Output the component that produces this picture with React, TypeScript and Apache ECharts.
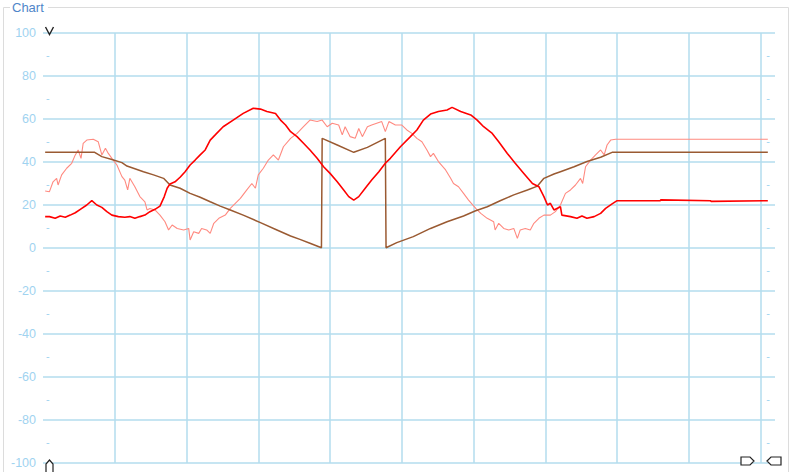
import React, { useEffect, useRef } from "react";
import * as echarts from "echarts";

// sample positions (x units: 100 per vertical grid division) and values
const redX = [3, 9, 17, 24, 31, 38, 45, 52, 61, 68, 75, 82, 89, 96, 105, 114, 121, 128, 135, 142, 149, 156, 163, 169, 173, 177, 184, 191, 198, 205, 212, 219, 226, 233, 240, 251, 265, 279, 293, 303, 312, 324, 331, 338, 345, 354, 363, 372, 382, 391, 400, 410, 419, 426, 433, 440, 449, 458, 468, 477, 484, 498, 512, 521, 530, 540, 551, 563, 570, 582, 596, 605, 614, 626, 635, 647, 658, 670, 682, 691, 698, 703, 707, 712, 721, 723, 735, 744, 751, 758, 768, 777, 784, 793, 800, 860, 861, 930, 931, 1010];
const redY = [14.6, 14.6, 13.8, 14.9, 14.3, 15.3, 16.4, 18, 20, 22, 20, 18.9, 16.9, 15.3, 14.6, 14.3, 14.6, 13.8, 14.6, 15.3, 16.9, 18, 19.5, 23.9, 27.8, 29.8, 30.8, 32.9, 35.5, 38.6, 40.9, 43.3, 45.6, 50.2, 52.6, 56.4, 59.5, 62.6, 65, 64.6, 63.5, 62.6, 59.5, 57.2, 54.1, 51.8, 48.7, 45.6, 41.7, 37.8, 34.7, 30.8, 27, 23.9, 22.3, 23.9, 27.8, 31.6, 35.5, 39.4, 41.7, 47.1, 51.8, 54.9, 59.5, 62.3, 63.5, 64.2, 65.4, 63.5, 61.9, 59.5, 56.4, 53.3, 49.4, 44, 39.4, 34.7, 30, 28.5, 23.9, 20, 20.8, 17.7, 19.2, 15.3, 14.6, 13.8, 14.9, 13.8, 14.6, 16.1, 18.4, 20.5, 22, 22, 22.4, 22, 21.7, 22];

const salmonX = [3, 9, 14, 19, 21, 26, 33, 40, 45, 49, 53, 56, 61, 70, 77, 82, 87, 91, 96, 103, 110, 114, 118, 121, 128, 135, 142, 145, 149, 156, 163, 170, 175, 180, 187, 196, 203, 205, 210, 217, 221, 228, 233, 238, 245, 254, 261, 268, 275, 284, 291, 296, 300, 307, 314, 321, 328, 335, 345, 354, 363, 372, 382, 389, 396, 403, 412, 417, 421, 428, 435, 440, 445, 452, 458, 465, 472, 477, 482, 491, 500, 507, 514, 521, 528, 535, 540, 544, 551, 561, 568, 572, 579, 586, 593, 603, 610, 619, 628, 630, 635, 642, 649, 656, 661, 665, 672, 679, 684, 691, 698, 707, 714, 721, 728, 735, 742, 749, 752, 756, 763, 770, 777, 782, 786, 791, 798, 1010];
const salmonY = [26.5, 26.2, 30.8, 32.4, 29.3, 34, 37.1, 39.4, 43.3, 45.6, 41.7, 48.7, 50.2, 50.6, 49.4, 43.3, 46.4, 44, 41.7, 38.6, 33.2, 31.6, 27, 32.4, 28.5, 23.9, 21.5, 17.7, 18.4, 17.7, 15.3, 12.2, 8.4, 10.7, 9.1, 8.4, 9.1, 3.7, 7.6, 6.8, 9.1, 8.4, 6.8, 11.5, 13.8, 15.3, 18.4, 20.8, 23.1, 27, 30, 27.8, 34, 37.1, 40.9, 43.3, 40.9, 47.1, 51, 53.3, 56.4, 59.5, 58.8, 59.5, 56.4, 58, 57.2, 52.6, 56.4, 51.8, 51, 55.6, 51.8, 56.4, 57.2, 58, 58.8, 54.1, 58.8, 57.2, 57.2, 54.9, 53.3, 51, 49.4, 45.6, 42.5, 44, 40.2, 36.3, 32.4, 30, 28.5, 25.4, 22.3, 18.4, 16.1, 13.8, 12.2, 8.4, 11.5, 9.1, 8.4, 9.1, 4.5, 8.4, 9.1, 8.4, 11.5, 13.8, 15.3, 15.3, 16.9, 20, 25.4, 27, 29.3, 32.4, 30, 37.8, 40.9, 43.3, 45.6, 43.3, 47.9, 50.2, 50.6, 50.6];

const brownX = [3, 72, 82, 96, 110, 117, 126, 140, 154, 168, 177, 191, 205, 219, 233, 247, 261, 279, 303, 326, 345, 358, 372, 388, 389, 410, 433, 452, 477, 478, 493, 516, 540, 563, 586, 602, 619, 637, 656, 675, 689, 698, 712, 721, 740, 758, 777, 793, 1010];
const brownY = [44.5, 44.5, 42.5, 41.2, 39.7, 38.1, 37.1, 35.5, 34, 32.4, 29.3, 27.8, 25.4, 23.6, 21.5, 19.5, 17.7, 15.3, 11.8, 8.4, 5.6, 4, 2.2, 0.1, 51, 47.9, 44.5, 46.8, 51, 0.1, 2.5, 5.3, 9.1, 12.2, 14.9, 17.2, 19.2, 22, 24.7, 27, 28.8, 32.4, 34.4, 35.5, 37.8, 40.2, 42.2, 44.5, 44.5];

const yMin = -100;
const yMax = 100;
const yStep = 20;
const xMin = 0;
const xMax = 1020;
const xStep = 100;

const pair = (xs: number[], ys: number[]) => xs.map((x, i) => [x, ys[i]]);

const GRID_COLOR = "#b3dcee";
const LABEL_COLOR = "#9fd3f0";

export default function App() {
  const ref = useRef<HTMLDivElement>(null);
  useEffect(() => {
    if (!ref.current) return;
    const chart = echarts.init(ref.current, null, { renderer: "svg" });
    const dashFmt = (v: number) => (Math.round(v / 10) % 2 !== 0 ? "-" : "");
    chart.setOption({
      animation: false,
      backgroundColor: "#ffffff",
      textStyle: { fontFamily: "Liberation Sans, Arial, sans-serif" },
      grid: { left: 43, right: 35, top: 33, bottom: 9, containLabel: false },
      xAxis: {
        type: "value",
        min: xMin,
        max: xMax,
        interval: xStep,
        axisLine: { show: false },
        axisTick: { show: false },
        axisLabel: { show: false },
        splitLine: {
          show: true,
          showMinLine: false,
          showMaxLine: false,
          lineStyle: { color: GRID_COLOR, width: 1.5 },
        },
      },
      yAxis: [
        {
          type: "value",
          min: yMin,
          max: yMax,
          interval: yStep,
          position: "left",
          axisLine: { show: false },
          axisTick: { show: false },
          axisLabel: { color: LABEL_COLOR, fontSize: 12.5, margin: 7 },
          splitLine: { show: true, lineStyle: { color: GRID_COLOR, width: 1.5 } },
        },
        {
          type: "value",
          min: yMin,
          max: yMax,
          interval: 10,
          position: "left",
          axisLine: { show: false },
          axisTick: { show: false },
          splitLine: { show: false },
          axisLabel: { inside: true, margin: 3, color: LABEL_COLOR, fontSize: 11, formatter: dashFmt },
        },
        {
          type: "value",
          min: yMin,
          max: yMax,
          interval: 10,
          position: "right",
          axisLine: { show: false },
          axisTick: { show: false },
          splitLine: { show: false },
          axisLabel: { inside: true, margin: 5, color: LABEL_COLOR, fontSize: 11, formatter: dashFmt },
        },
      ],
      series: [
        {
          type: "line",
          data: pair(salmonX, salmonY),
          showSymbol: false,
          lineStyle: { color: "#ff8a80", width: 1.1 },
          z: 2,
        },
        {
          type: "line",
          data: pair(brownX, brownY),
          showSymbol: false,
          lineStyle: { color: "#9a5a32", width: 1.5 },
          z: 3,
        },
        {
          type: "line",
          data: pair(redX, redY),
          showSymbol: false,
          lineStyle: { color: "#ff0000", width: 1.6 },
          z: 4,
        },
      ],
      graphic: [
        { type: "line", shape: { x1: 3.5, y1: 7.5, x2: 3.5, y2: 472 }, style: { stroke: "#dcdcdc", lineWidth: 1 }, silent: true },
        { type: "line", shape: { x1: 3.5, y1: 7.5, x2: 10, y2: 7.5 }, style: { stroke: "#dcdcdc", lineWidth: 1 }, silent: true },
        { type: "line", shape: { x1: 48, y1: 7.5, x2: 788.5, y2: 7.5 }, style: { stroke: "#dcdcdc", lineWidth: 1 }, silent: true },
        { type: "line", shape: { x1: 788.5, y1: 7.5, x2: 788.5, y2: 472 }, style: { stroke: "#dcdcdc", lineWidth: 1 }, silent: true },
        {
          type: "text",
          left: 12,
          top: 1,
          style: { text: "Chart", fill: "#4f86c9", fontSize: 13, fontFamily: "Liberation Sans, Arial, sans-serif" },
          z: 10,
        },
        {
          type: "polyline",
          shape: { points: [[45.5, 27], [49.5, 34.5], [53.5, 27]] },
          style: { stroke: "#222222", lineWidth: 1.4, fill: "none" },
          z: 10,
        },
        {
          type: "polygon",
          shape: { points: [[46, 473], [46, 464], [49.5, 460], [53, 464], [53, 473]] },
          style: { stroke: "#222222", lineWidth: 1.2, fill: "#ffffff" },
          z: 10,
        },
        {
          type: "polygon",
          shape: { points: [[741, 457], [750, 457], [754, 461], [750, 465], [741, 465]] },
          style: { stroke: "#222222", lineWidth: 1.2, fill: "#ffffff" },
          z: 10,
        },
        {
          type: "polygon",
          shape: { points: [[767, 461], [771, 457], [781, 457], [781, 465], [771, 465]] },
          style: { stroke: "#222222", lineWidth: 1.2, fill: "#ffffff" },
          z: 10,
        },
      ],
    });
    return () => chart.dispose();
  }, []);
  return (
    <div
      ref={ref}
      style={{ position: "fixed", left: 0, top: 0, width: 810, height: 472, background: "#fff" }}
    />
  );
}
